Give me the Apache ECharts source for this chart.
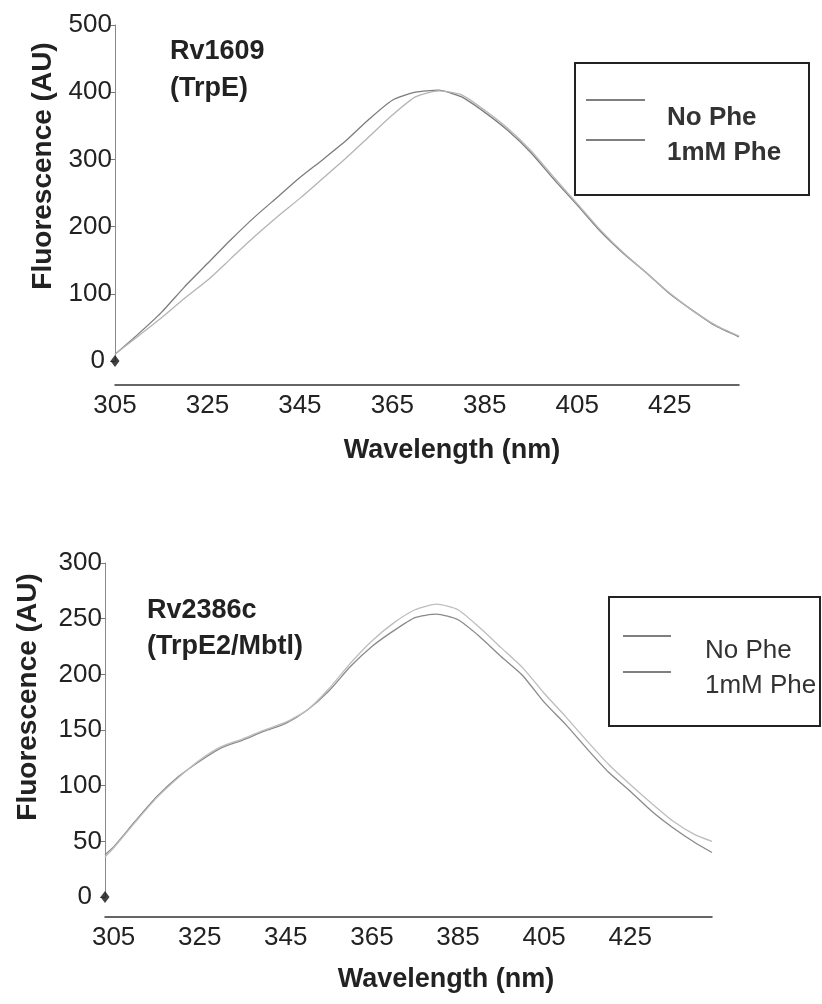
<!DOCTYPE html>
<html>
<head>
<meta charset="utf-8">
<script src="https://cdn.jsdelivr.net/npm/echarts@6/dist/echarts.min.js"></script>
<style>
  html, body { margin: 0; padding: 0; background: #ffffff; }
  #chart { width: 822px; height: 1004px; }
</style>
</head>
<body>
<div id="chart"></div>
<script>
// Emission spectra (wavelength in nm, fluorescence in AU)
const wavelengthTop = [305, 310, 315, 320, 325, 330, 335, 340, 345, 350, 355, 360, 365, 370,
  375, 380, 385, 390, 395, 400, 405, 410, 415, 420, 425, 430, 435, 440];
const trpENoPhe = [10, 40, 72, 110, 145, 180, 213, 243, 273, 300, 328, 360, 388, 400,
  403, 393, 370, 343, 310, 270, 232, 193, 160, 131, 100, 75, 52, 36];
const trpEPhe = [10, 37, 64, 93, 120, 152, 184, 214, 242, 272, 302, 334, 366, 393,
  402, 396, 373, 346, 313, 273, 234, 195, 161, 131, 101, 75, 53, 37];

const wavelengthBottom = [303, 305, 310, 315, 320, 325, 330, 335, 340, 345, 350, 355, 360, 365,
  370, 375, 380, 385, 390, 395, 400, 405, 410, 415, 420, 425, 430, 435, 440, 444];
const mbtINoPhe = [38, 45, 68, 90, 108, 122, 134, 141, 149, 156, 168, 185, 207, 225,
  239, 251, 254, 249, 234, 216, 199, 175, 155, 133, 112, 95, 77, 62, 49, 40];
const mbtIPhe = [36, 44, 67, 89, 107, 123, 135, 142, 150, 157, 168, 187, 210, 230,
  246, 258, 263, 258, 242, 224, 206, 183, 162, 140, 119, 101, 84, 68, 56, 50];

// Origin markers
const originTop = [[305, 0]];
const originBottom = [[303, 0]];

// Tick labels
const wavelengthTicks = [305, 325, 345, 365, 385, 405, 425];
const seriesNames = ['No Phe', '1mM Phe'];

const FONT = "'Liberation Sans', Arial, sans-serif";
const zip = (xs, ys) => xs.map((x, i) => [x, ys[i]]);

function xAxisFor(gridIndex, min, max, offset) {
  return {
    type: 'value', gridIndex, min, max, offset,
    axisLine: { show: true, onZero: false, lineStyle: { color: '#333', width: 1.5 } },
    axisTick: { show: false },
    splitLine: { show: false },
    axisLabel: {
      customValues: wavelengthTicks,
      fontFamily: FONT, fontSize: 26, color: '#222', margin: 8
    }
  };
}

function yAxisFor(gridIndex, max, interval, zeroGap) {
  return {
    type: 'value', gridIndex, min: 0, max, interval,
    axisLine: { show: true, onZero: false, lineStyle: { color: '#8a8a8a', width: 1 } },
    axisTick: { show: true, length: 5, lineStyle: { color: '#777' } },
    splitLine: { show: false },
    axisLabel: {
      fontFamily: FONT, fontSize: 26, color: '#222', margin: 3,
      // the zero label sits a little further out, clear of the origin marker
      formatter: v => (v === 0 ? '{z|0}' : String(v)),
      rich: { z: { fontFamily: FONT, fontSize: 26, color: '#222', padding: [0, zeroGap, 0, 0] } }
    }
  };
}

function lineSeries(name, idx, data, color) {
  return {
    name, type: 'line', xAxisIndex: idx, yAxisIndex: idx, data,
    symbol: 'none', smooth: 0.2, animation: false,
    lineStyle: { color, width: 1.3 }
  };
}

function originSeries(idx, data) {
  return {
    type: 'scatter', xAxisIndex: idx, yAxisIndex: idx, data,
    symbol: 'diamond', symbolSize: [9, 12], animation: false,
    itemStyle: { color: '#111' }
  };
}

function legendBox(x, y, w, h, lineY, lineX1, lineX2, textX, textY, bold) {
  const items = [{
    type: 'rect', shape: { x, y, width: w, height: h },
    style: { fill: '#fff', stroke: '#222', lineWidth: 2 }
  }];
  lineY.forEach((ly, i) => {
    items.push({
      type: 'line', shape: { x1: lineX1, y1: ly, x2: lineX2, y2: ly },
      style: { stroke: '#555', lineWidth: 1.5 }
    });
    items.push({
      type: 'text', x: textX, y: textY[i],
      style: {
        text: seriesNames[i], fill: '#333', font: (bold ? 'bold ' : '') + '26px ' + FONT,
        textAlign: 'left', textVerticalAlign: 'middle'
      }
    });
  });
  return items;
}

function label(text, x, y, size) {
  return {
    type: 'text', x, y,
    style: {
      text, fill: '#222', font: 'bold ' + size + 'px ' + FONT,
      textAlign: 'left', textVerticalAlign: 'middle'
    }
  };
}
function centered(text, x, y, size, rotate) {
  return {
    type: 'text', x, y, rotation: rotate ? Math.PI / 2 : 0,
    style: {
      text, fill: '#222', font: 'bold ' + size + 'px ' + FONT,
      textAlign: 'center', textVerticalAlign: 'middle'
    }
  };
}

const chart = echarts.init(document.getElementById('chart'), null, { renderer: 'canvas' });

chart.setOption({
  backgroundColor: '#ffffff',
  animation: false,
  grid: [
    { left: 115, top: 25, width: 624, height: 336 },
    { left: 105, top: 563, width: 607, height: 334 }
  ],
  xAxis: [
    xAxisFor(0, 305, 440, 24),
    xAxisFor(1, 303, 444, 20)
  ],
  yAxis: [
    yAxisFor(0, 500, 100, 7),
    yAxisFor(1, 300, 50, 10)
  ],
  series: [
    lineSeries(seriesNames[0], 0, zip(wavelengthTop, trpENoPhe), '#7c7c7c'),
    lineSeries(seriesNames[1], 0, zip(wavelengthTop, trpEPhe), '#b4b4b4'),
    originSeries(0, originTop),
    lineSeries(seriesNames[0], 1, zip(wavelengthBottom, mbtINoPhe), '#8a8a8a'),
    lineSeries(seriesNames[1], 1, zip(wavelengthBottom, mbtIPhe), '#bdbdbd'),
    originSeries(1, originBottom)
  ],
  graphic: [
    // panel captions
    label('Rv1609', 170, 52, 27),
    label('(TrpE)', 170, 89, 27),
    label('Rv2386c', 147, 611, 27),
    label('(TrpE2/Mbtl)', 147, 647, 27),
    // axis titles
    centered('Fluorescence (AU)', 43, 166, 28, true),
    centered('Fluorescence (AU)', 28, 697, 28, true),
    centered('Wavelength (nm)', 452, 451, 27),
    centered('Wavelength (nm)', 446, 980, 27),
    // legends
    ...legendBox(575, 63, 234, 132, [100, 140], 586, 645, 667, [118, 153], true),
    ...legendBox(609, 597, 211, 129, [636, 672], 623, 671, 705, [651, 686], false)
  ]
});
</script>
</body>
</html>
